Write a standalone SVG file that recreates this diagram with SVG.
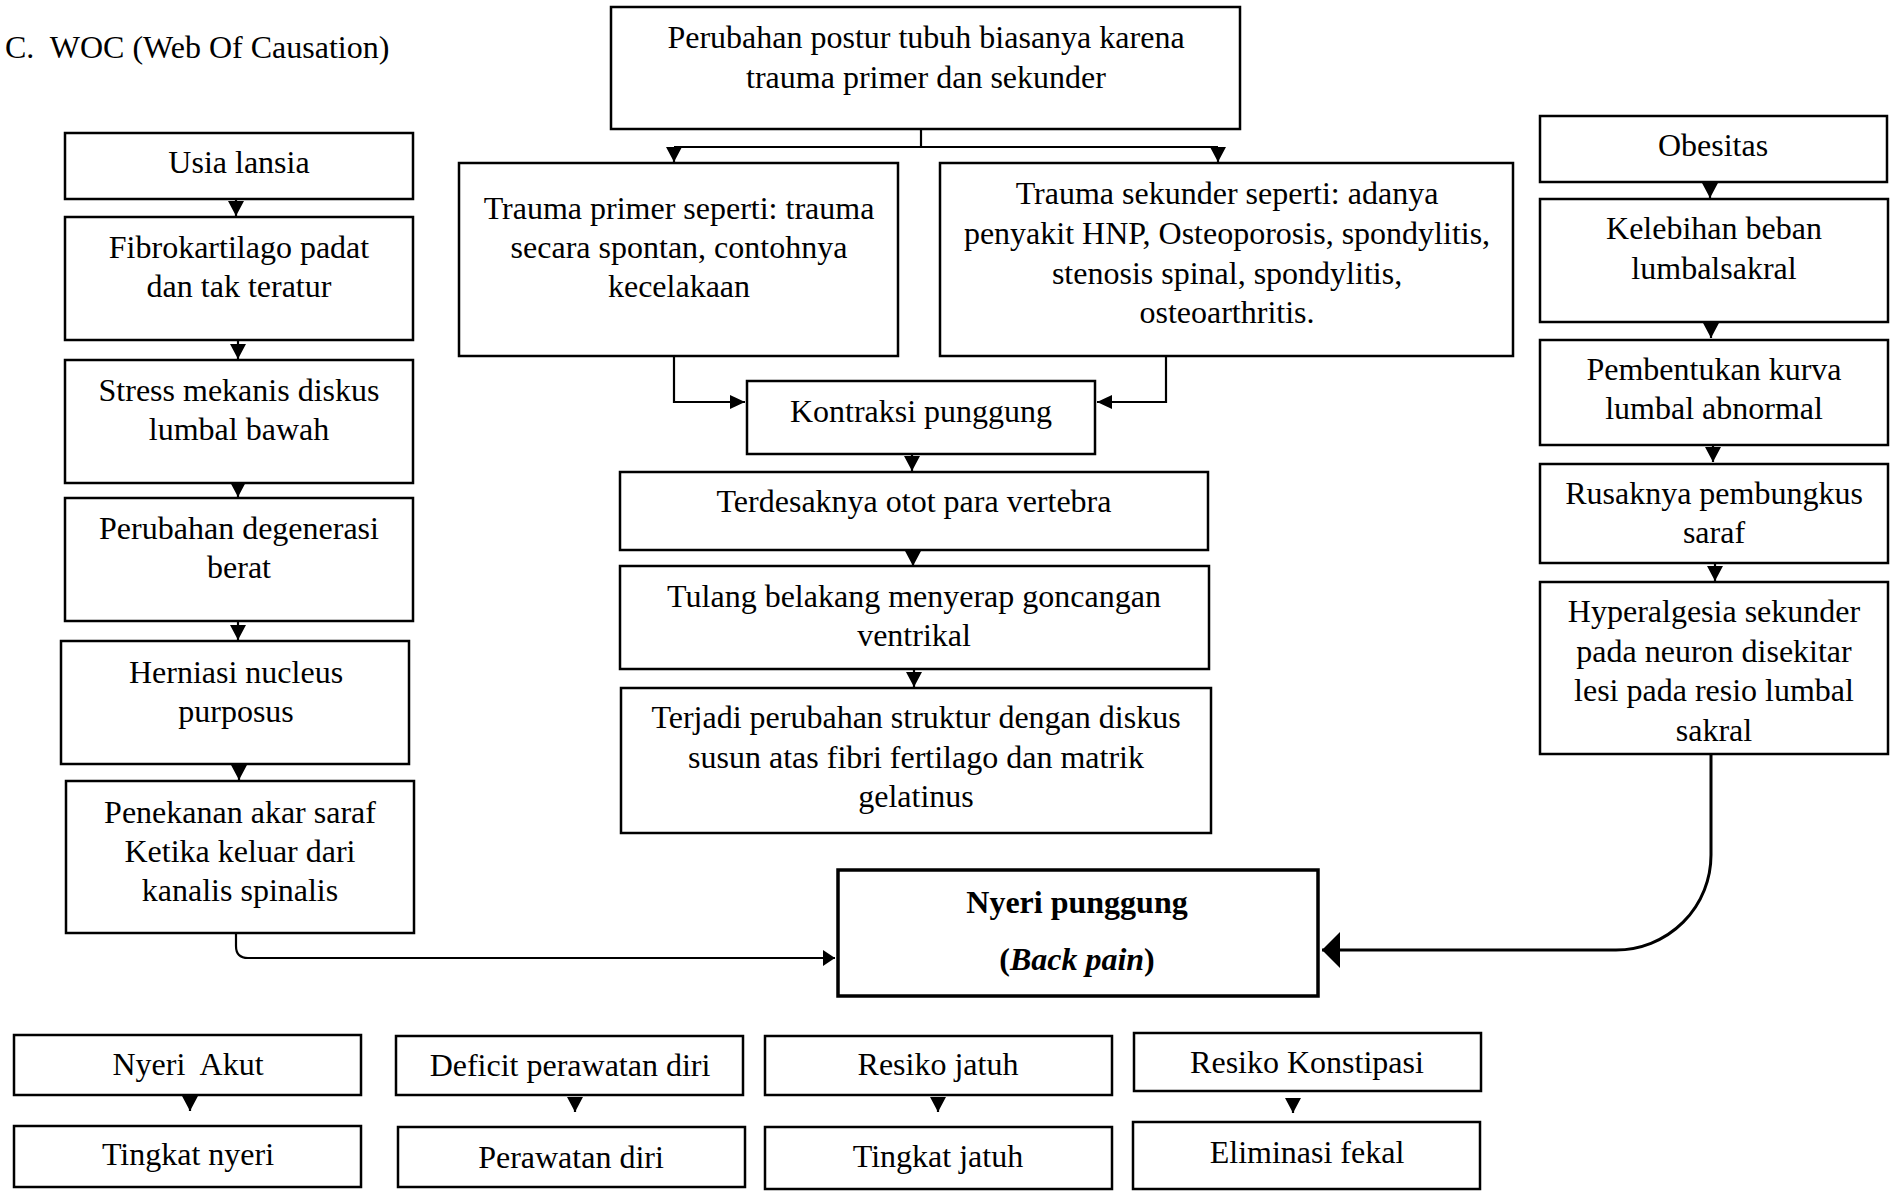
<svg xmlns="http://www.w3.org/2000/svg" width="1895" height="1191" viewBox="0 0 1895 1191">
<style>
.box{fill:#fff;stroke:#000;stroke-width:2.5}
.main{fill:#fff;stroke:#000;stroke-width:3.5}
.t{font-family:"Liberation Serif","Times New Roman",serif;font-size:32px;text-anchor:middle;fill:#000}
.c{fill:none;stroke:#000;stroke-width:2.2}
</style>
<defs>
<marker id="arr" markerUnits="userSpaceOnUse" viewBox="0 0 15 16" refX="15" refY="8" markerWidth="15" markerHeight="16" orient="auto"><path d="M0,0 L15,8 L0,16 z" fill="#000"/></marker>
<marker id="arrS" markerUnits="userSpaceOnUse" viewBox="0 0 15 14" refX="15" refY="7" markerWidth="15" markerHeight="14" orient="auto"><path d="M0,0 L15,7 L0,14 z" fill="#000"/></marker>
<marker id="arrL" markerUnits="userSpaceOnUse" viewBox="0 0 12 16" refX="12" refY="8" markerWidth="12" markerHeight="16" orient="auto"><path d="M0,0 L12,8 L0,16 z" fill="#000"/></marker>
<marker id="arrB" markerUnits="userSpaceOnUse" viewBox="0 0 18 36" refX="18" refY="18" markerWidth="18" markerHeight="36" orient="auto"><path d="M0,0 L18,18 L0,36 z" fill="#000"/></marker>
</defs>
<rect width="1895" height="1191" fill="#fff"/>
<text x="5" y="58" font-family="Liberation Serif, Times New Roman, serif" font-size="32" xml:space="preserve" style="white-space:pre">C.  WOC (Web Of Causation)</text>

<g id="connectors">
<path class="c" d="M921,129 V147"/>
<path class="c" d="M674,147 H1218"/>
<path class="c" d="M674,147 V162" marker-end="url(#arr)"/>
<path class="c" d="M1218,147 V162" marker-end="url(#arr)"/>
<path class="c" d="M674,356 V402 H745" marker-end="url(#arrS)"/>
<path class="c" d="M1166,356 V402 H1097" marker-end="url(#arrS)"/>
<path class="c" d="M912,454 V471" marker-end="url(#arr)"/>
<path class="c" d="M913,550 V566" marker-end="url(#arr)"/>
<path class="c" d="M914,669 V687" marker-end="url(#arr)"/>
<path class="c" d="M236,199 V216" marker-end="url(#arr)"/>
<path class="c" d="M238,340 V359" marker-end="url(#arr)"/>
<path class="c" d="M238,483 V497" marker-end="url(#arr)"/>
<path class="c" d="M238,621 V640" marker-end="url(#arr)"/>
<path class="c" d="M239,764 V780" marker-end="url(#arr)"/>
<path class="c" d="M236,933 V946 Q236,958 248,958 H835" marker-end="url(#arrL)"/>
<path class="c" d="M1710,182 V198" marker-end="url(#arr)"/>
<path class="c" d="M1711,322 V338" marker-end="url(#arr)"/>
<path class="c" d="M1713,445 V462" marker-end="url(#arr)"/>
<path class="c" d="M1715,563 V581" marker-end="url(#arr)"/>
<path class="c" style="stroke-width:3" d="M1711,754 V855 A95,95 0 0 1 1616,950 H1322" marker-end="url(#arrB)"/>
<path class="c" d="M190,1096 V1111" marker-end="url(#arr)"/>
<path class="c" d="M575,1097 V1112" marker-end="url(#arr)"/>
<path class="c" d="M938,1097 V1112" marker-end="url(#arr)"/>
<path class="c" d="M1293,1098 V1113" marker-end="url(#arr)"/>
</g>

<g id="n_top"><rect class="box" x="611" y="7" width="629" height="122"/>
<text class="t" x="926" y="48">Perubahan postur tubuh biasanya karena</text>
<text class="t" x="926" y="88">trauma primer dan sekunder</text></g>

<g id="n_primer"><rect class="box" x="459" y="163" width="439" height="193"/>
<text class="t" x="679" y="219">Trauma primer seperti: trauma</text>
<text class="t" x="679" y="258">secara spontan, contohnya</text>
<text class="t" x="679" y="297">kecelakaan</text></g>

<g id="n_sekunder"><rect class="box" x="940" y="163" width="573" height="193"/>
<text class="t" x="1227" y="204">Trauma sekunder seperti: adanya</text>
<text class="t" x="1227" y="244">penyakit HNP, Osteoporosis, spondylitis,</text>
<text class="t" x="1227" y="284">stenosis spinal, spondylitis,</text>
<text class="t" x="1227" y="323">osteoarthritis.</text></g>

<g id="n_kontraksi"><rect class="box" x="747" y="381" width="348" height="73"/>
<text class="t" x="921" y="422">Kontraksi punggung</text></g>

<g id="n_terdesak"><rect class="box" x="620" y="472" width="588" height="78"/>
<text class="t" x="914" y="512">Terdesaknya otot para vertebra</text></g>

<g id="n_tulang"><rect class="box" x="620" y="566" width="589" height="103"/>
<text class="t" x="914" y="607">Tulang belakang menyerap goncangan</text>
<text class="t" x="914" y="646">ventrikal</text></g>

<g id="n_terjadi"><rect class="box" x="621" y="688" width="590" height="145"/>
<text class="t" x="916" y="728">Terjadi perubahan struktur dengan diskus</text>
<text class="t" x="916" y="768">susun atas fibri fertilago dan matrik</text>
<text class="t" x="916" y="807">gelatinus</text></g>

<g id="n_usia"><rect class="box" x="65" y="133" width="348" height="66"/>
<text class="t" x="239" y="173">Usia lansia</text></g>

<g id="n_fibro"><rect class="box" x="65" y="217" width="348" height="123"/>
<text class="t" x="239" y="258">Fibrokartilago padat</text>
<text class="t" x="239" y="297">dan tak teratur</text></g>

<g id="n_stress"><rect class="box" x="65" y="360" width="348" height="123"/>
<text class="t" x="239" y="401">Stress mekanis diskus</text>
<text class="t" x="239" y="440">lumbal bawah</text></g>

<g id="n_degenerasi"><rect class="box" x="65" y="498" width="348" height="123"/>
<text class="t" x="239" y="539">Perubahan degenerasi</text>
<text class="t" x="239" y="578">berat</text></g>

<g id="n_herniasi"><rect class="box" x="61" y="641" width="348" height="123"/>
<text class="t" x="236" y="683">Herniasi nucleus</text>
<text class="t" x="236" y="722">purposus</text></g>

<g id="n_penekanan"><rect class="box" x="66" y="781" width="348" height="152"/>
<text class="t" x="240" y="823">Penekanan akar saraf</text>
<text class="t" x="240" y="862">Ketika keluar dari</text>
<text class="t" x="240" y="901">kanalis spinalis</text></g>

<g id="n_nyeri"><rect class="main" x="838" y="870" width="480" height="126"/>
<text class="t" x="1077" y="913" font-weight="bold">Nyeri punggung</text>
<text class="t" x="1077" y="970" font-weight="bold">(<tspan font-style="italic">Back pain</tspan>)</text></g>

<g id="n_obesitas"><rect class="box" x="1540" y="116" width="347" height="66"/>
<text class="t" x="1713" y="156">Obesitas</text></g>

<g id="n_kelebihan"><rect class="box" x="1540" y="199" width="348" height="123"/>
<text class="t" x="1714" y="239">Kelebihan beban</text>
<text class="t" x="1714" y="279">lumbalsakral</text></g>

<g id="n_pembentukan"><rect class="box" x="1540" y="340" width="348" height="105"/>
<text class="t" x="1714" y="380">Pembentukan kurva</text>
<text class="t" x="1714" y="419">lumbal abnormal</text></g>

<g id="n_rusaknya"><rect class="box" x="1540" y="464" width="348" height="99"/>
<text class="t" x="1714" y="504">Rusaknya pembungkus</text>
<text class="t" x="1714" y="543">saraf</text></g>

<g id="n_hyper"><rect class="box" x="1540" y="582" width="348" height="172"/>
<text class="t" x="1714" y="622">Hyperalgesia sekunder</text>
<text class="t" x="1714" y="662">pada neuron disekitar</text>
<text class="t" x="1714" y="701">lesi pada resio lumbal</text>
<text class="t" x="1714" y="741">sakral</text></g>

<g id="n_nyeriakut"><rect class="box" x="14" y="1035" width="347" height="60"/>
<text class="t" x="188" y="1075" xml:space="preserve" style="white-space:pre">Nyeri  Akut</text></g>

<g id="n_tingkatnyeri"><rect class="box" x="14" y="1126" width="347" height="61"/>
<text class="t" x="188" y="1165">Tingkat nyeri</text></g>

<g id="n_deficit"><rect class="box" x="396" y="1036" width="347" height="59"/>
<text class="t" x="570" y="1076">Deficit perawatan diri</text></g>

<g id="n_perawatan"><rect class="box" x="398" y="1127" width="347" height="60"/>
<text class="t" x="571" y="1168">Perawatan diri</text></g>

<g id="n_resikojatuh"><rect class="box" x="765" y="1036" width="347" height="59"/>
<text class="t" x="938" y="1075">Resiko jatuh</text></g>

<g id="n_tingkatjatuh"><rect class="box" x="765" y="1127" width="347" height="62"/>
<text class="t" x="938" y="1167">Tingkat jatuh</text></g>

<g id="n_konstipasi"><rect class="box" x="1134" y="1033" width="347" height="58"/>
<text class="t" x="1307" y="1073">Resiko Konstipasi</text></g>

<g id="n_eliminasi"><rect class="box" x="1133" y="1122" width="347" height="67"/>
<text class="t" x="1307" y="1163">Eliminasi fekal</text></g>
</svg>
